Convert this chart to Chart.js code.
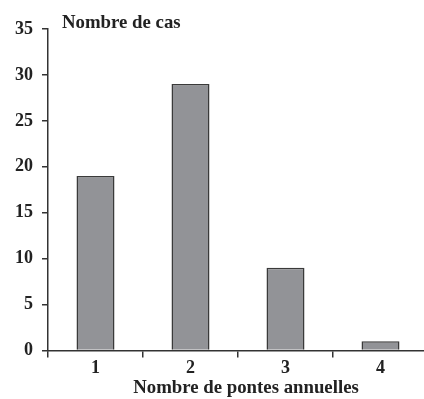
<!DOCTYPE html>
<html><head><meta charset="utf-8">
<script src="https://cdn.jsdelivr.net/npm/chart.js@4"></script>
<style>html,body{margin:0;padding:0;overflow:hidden;background:#fff;}canvas{display:block;}</style>
</head><body>
<canvas id="c" width="430" height="399"></canvas>
<script>
const categories = ['1', '2', '3', '4'];
const cases = [19, 29, 9, 1];
const yTitle = 'Nombre de cas';
const xTitle = 'Nombre de pontes annuelles';

const FONT = '"Liberation Serif", "Times New Roman", serif';
const textPlugin = {
  id: 'texts',
  afterDraw(chart) {
    const ctx = chart.ctx, a = chart.chartArea;
    ctx.save();
    ctx.fillStyle = '#222';
    ctx.font = 'bold 18.8px ' + FONT;
    ctx.textBaseline = 'middle';
    ctx.textAlign = 'left';
    ctx.fillText(yTitle, a.left + 14, 23);
    ctx.textAlign = 'center';
    ctx.fillText(xTitle, (a.left + a.right) / 2 + 8, 388);
    ctx.restore();
  }
};

new Chart(document.getElementById('c'), {
  type: 'bar',
  data: {
    labels: categories,
    datasets: [{
      data: cases,
      backgroundColor: '#929397',
      borderColor: '#3a3a3a',
      borderWidth: 1.5,
      barPercentage: 0.4,
      categoryPercentage: 1.0
    }]
  },
  options: {
    responsive: false,
    animation: false,
    layout: { padding: { top: 29, right: 2, left: 0, bottom: 0 } },
    plugins: { legend: { display: false }, tooltip: { enabled: false } },
    scales: {
      x: {
        offset: true,
        grid: { display: true, drawOnChartArea: false, offset: true, tickLength: 7, color: '#333', lineWidth: 1.5 },
        border: { display: true, color: '#333', width: 1.5 },
        ticks: { color: '#222', font: { family: FONT, size: 18, weight: 'bold' }, padding: 0, maxRotation: 0 },
        afterFit(s) { s.height = 48.5; }
      },
      y: {
        min: 0, max: 35,
        ticks: { stepSize: 5, color: '#222', font: { family: FONT, size: 18, weight: 'bold' }, padding: 9 },
        grid: { display: true, drawOnChartArea: false, tickLength: 6, color: '#333', lineWidth: 1.5 },
        border: { display: true, color: '#333', width: 1.5 },
        afterFit(s) { s.width = 48; }
      }
    }
  },
  plugins: [textPlugin]
});
</script>
</body></html>
